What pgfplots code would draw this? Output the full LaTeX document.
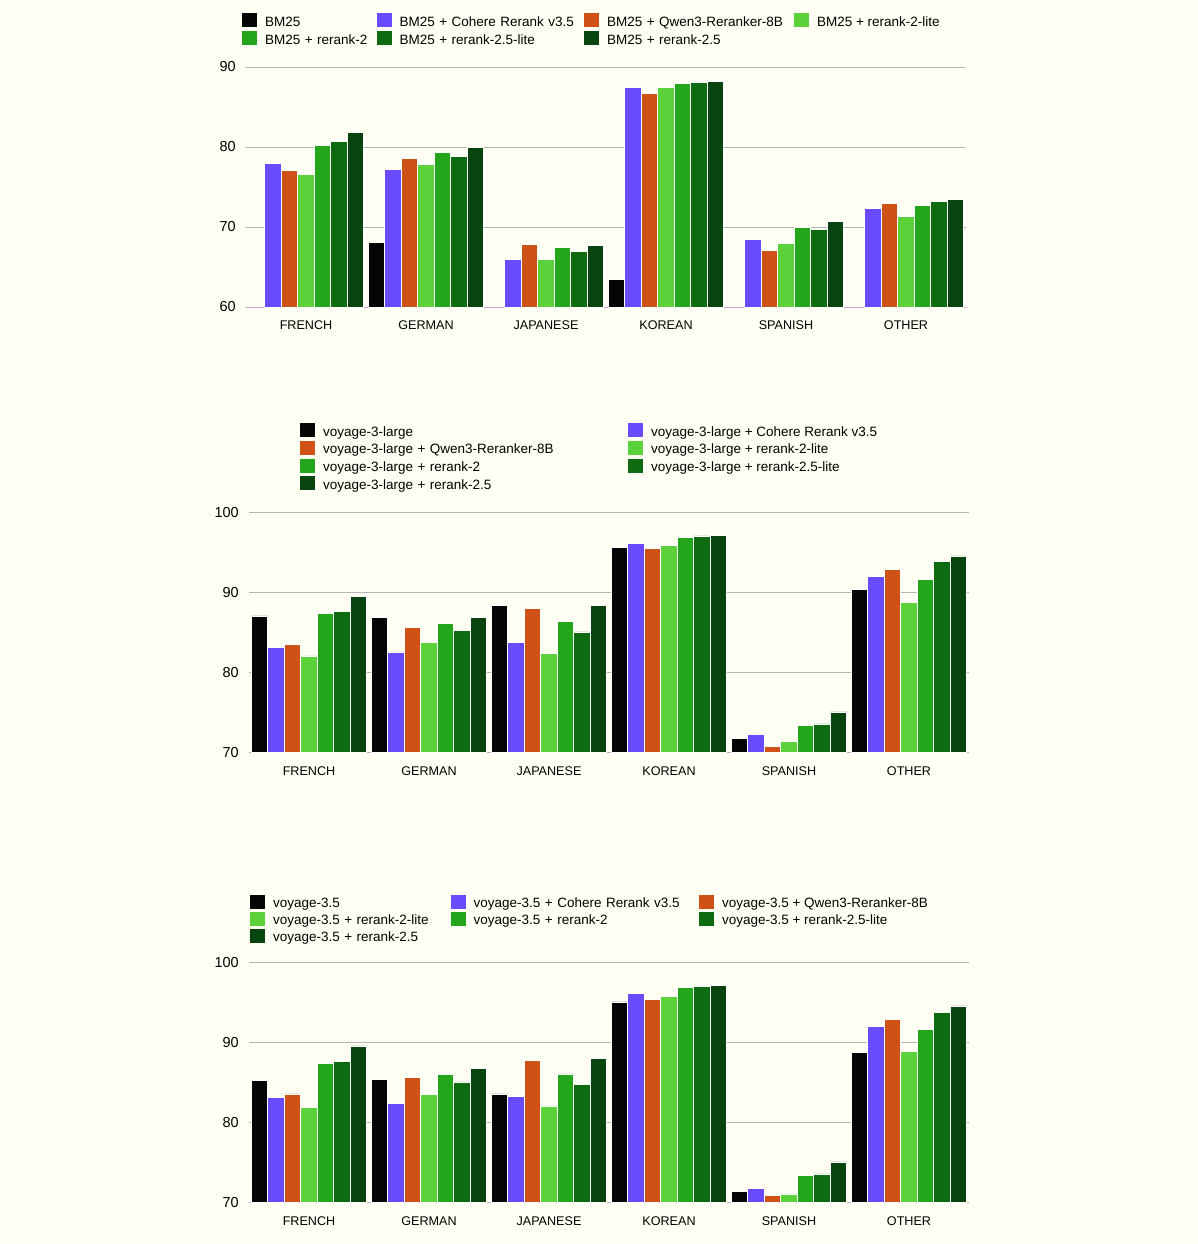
\documentclass[border=0pt]{standalone}
\usepackage{fontspec}
\setmainfont{Liberation Sans}
\usepackage{pgfplots}
\usepackage{pgfplotstable}
\pgfplotsset{compat=1.18}
\definecolor{bg}{HTML}{FFFFF4}
\definecolor{cBlack}{HTML}{050505}
\definecolor{cPurple}{HTML}{6A4BFF}
\definecolor{cOrange}{HTML}{CF5116}
\definecolor{cLite}{HTML}{5BD23A}
\definecolor{cGreen}{HTML}{23A51C}
\definecolor{cDark}{HTML}{0E6B12}
\definecolor{cDarkest}{HTML}{08450E}
\definecolor{gridc}{HTML}{B4B4B4}
\definecolor{basec}{HTML}{C9A6C4}
\newcommand\myfont{\fontsize{13.5bp}{16bp}\selectfont}
\newcommand\xfont{\fontsize{12.6bp}{15bp}\selectfont}
\newcommand\yfont{\fontsize{14.5bp}{17bp}\selectfont}

\pgfplotstableread{
x s0 s1 s2 s3 s4 s5 s6
0 nan 78.0 77.1 76.6 80.2 80.7 81.8
1 68.1 77.2 78.6 77.8 79.3 78.8 80.0
2 nan 66.0 67.8 66.0 67.5 66.9 67.7
3 63.5 87.5 86.7 87.4 88.0 88.1 88.2
4 nan 68.5 67.1 68.0 70.0 69.7 70.7
5 nan 72.3 73.0 71.3 72.7 73.2 73.4
}\tabA
\pgfplotstableread{
x s0 s1 s2 s3 s4 s5 s6
0 87.1 83.2 83.5 82.1 87.4 87.7 89.5
1 86.9 82.6 85.7 83.8 86.2 85.3 86.9
2 88.4 83.8 88.0 82.4 86.4 85.1 88.4
3 95.7 96.2 95.5 95.9 96.9 97.1 97.2
4 71.8 72.3 70.8 71.4 73.4 73.6 75.1
5 90.4 92.0 92.9 88.8 91.7 93.9 94.6
}\tabB
\pgfplotstableread{
x s0 s1 s2 s3 s4 s5 s6
0 85.3 83.2 83.6 81.9 87.4 87.7 89.6
1 85.4 82.4 85.7 83.5 86.0 85.1 86.8
2 83.6 83.3 87.8 82.1 86.1 84.8 88.0
3 95.1 96.2 95.4 95.8 96.9 97.0 97.2
4 71.4 71.8 70.9 71.1 73.4 73.6 75.1
5 88.8 92.0 92.9 88.9 91.7 93.8 94.6
}\tabC

\pgfplotsset{
  mybar/.style 2 args={ybar, bar width=0.1375, bar shift=#2, fill=#1, draw=white, line width=0.7bp,
    legend image code/.code={\path[fill=#1, draw=none] (0bp,-7bp) rectangle (15bp,7bp); \path[draw=none, fill=none] (23bp,0bp);}},
  mybase/.style={
    scale only axis, width=720bp, height=240bp,
    xmin=-0.5, xmax=5.5,
    xtick={0,1,2,3,4,5},
    xticklabels={FRENCH,GERMAN,JAPANESE,KOREAN,SPANISH,OTHER},
    major tick length=0pt, tick style={draw=none},
    ymajorgrids, grid style={draw=gridc, line width=0.8bp},
    axis x line*=bottom, axis y line*=left,
    y axis line style={draw=none},
    x axis line style={draw=basec, line width=1bp, -},
    /pgf/number format/assume math mode=true,
    yticklabel style={font=\yfont, anchor=east, inner sep=0pt, xshift=-10bp},
    xticklabel style={font=\xfont, anchor=north, inner sep=0pt, yshift=-13.5bp},
    legend cell align=left,
    legend style={draw=none, fill=none, inner sep=0pt, outer sep=0pt,
      anchor=north west, column sep=0pt,
      cells={anchor=west},
      nodes={inner sep=0pt, outer sep=0pt, text height=12.5bp, text depth=1bp, font=\myfont}},
  },
}

\begin{document}
\begin{tikzpicture}
\fill[bg] (0,0) rectangle (1198bp,-1244bp);

% Panel 1
\begin{axis}[mybase, at={(246bp,-67bp)}, anchor=north west,
  ymin=60, ymax=90, ytick={60,70,80,90},
  legend columns=4,
  legend style={at={(-0.00556,1.22375)}, row sep=4bp,
    /tikz/column 2/.append style={nodes={text width=111.5bp}},
    /tikz/column 4/.append style={nodes={text width=184.5bp}},
    /tikz/column 6/.append style={nodes={text width=187bp}}},
]
\addplot[mybar={cBlack}{-0.4125}] table[x=x,y=s0]{\tabA};
\addplot[mybar={cPurple}{-0.275}] table[x=x,y=s1]{\tabA};
\addplot[mybar={cOrange}{-0.1375}] table[x=x,y=s2]{\tabA};
\addplot[mybar={cLite}{0}] table[x=x,y=s3]{\tabA};
\addplot[mybar={cGreen}{0.1375}] table[x=x,y=s4]{\tabA};
\addplot[mybar={cDark}{0.275}] table[x=x,y=s5]{\tabA};
\addplot[mybar={cDarkest}{0.4125}] table[x=x,y=s6]{\tabA};
\legend{BM25, BM25 + Cohere Rerank v3.5, BM25 + Qwen3-Reranker-8B, BM25 + rerank-2-lite, BM25 + rerank-2, BM25 + rerank-2.5-lite, BM25 + rerank-2.5}
\end{axis}

% Panel 2
\begin{axis}[mybase, at={(249bp,-512.7bp)}, anchor=north west,
  ymin=70, ymax=100, ytick={70,80,90,100},
  legend columns=2,
  legend style={at={(0.07083,1.3725)}, row sep=3.67bp,
    /tikz/column 2/.append style={nodes={text width=305bp}}},
]
\addplot[mybar={cBlack}{-0.4125}] table[x=x,y=s0]{\tabB};
\addplot[mybar={cPurple}{-0.275}] table[x=x,y=s1]{\tabB};
\addplot[mybar={cOrange}{-0.1375}] table[x=x,y=s2]{\tabB};
\addplot[mybar={cLite}{0}] table[x=x,y=s3]{\tabB};
\addplot[mybar={cGreen}{0.1375}] table[x=x,y=s4]{\tabB};
\addplot[mybar={cDark}{0.275}] table[x=x,y=s5]{\tabB};
\addplot[mybar={cDarkest}{0.4125}] table[x=x,y=s6]{\tabB};
\legend{voyage-3-large, voyage-3-large + Cohere Rerank v3.5, voyage-3-large + Qwen3-Reranker-8B, voyage-3-large + rerank-2-lite, voyage-3-large + rerank-2, voyage-3-large + rerank-2.5-lite, voyage-3-large + rerank-2.5}
\end{axis}

% Panel 3
\begin{axis}[mybase, at={(249bp,-962.7bp)}, anchor=north west,
  ymin=70, ymax=100, ytick={70,80,90,100},
  legend columns=3,
  legend style={at={(0.00139,1.28208)}, row sep=3bp,
    /tikz/column 2/.append style={nodes={text width=177.7bp}},
    /tikz/column 4/.append style={nodes={text width=225.3bp}}},
]
\addplot[mybar={cBlack}{-0.4125}] table[x=x,y=s0]{\tabC};
\addplot[mybar={cPurple}{-0.275}] table[x=x,y=s1]{\tabC};
\addplot[mybar={cOrange}{-0.1375}] table[x=x,y=s2]{\tabC};
\addplot[mybar={cLite}{0}] table[x=x,y=s3]{\tabC};
\addplot[mybar={cGreen}{0.1375}] table[x=x,y=s4]{\tabC};
\addplot[mybar={cDark}{0.275}] table[x=x,y=s5]{\tabC};
\addplot[mybar={cDarkest}{0.4125}] table[x=x,y=s6]{\tabC};
\legend{voyage-3.5, voyage-3.5 + Cohere Rerank v3.5, voyage-3.5 + Qwen3-Reranker-8B, voyage-3.5 + rerank-2-lite, voyage-3.5 + rerank-2, voyage-3.5 + rerank-2.5-lite, voyage-3.5 + rerank-2.5}
\end{axis}

\pgfresetboundingbox
\useasboundingbox (0,0) rectangle (1198bp,-1244bp);
\end{tikzpicture}
\end{document}
